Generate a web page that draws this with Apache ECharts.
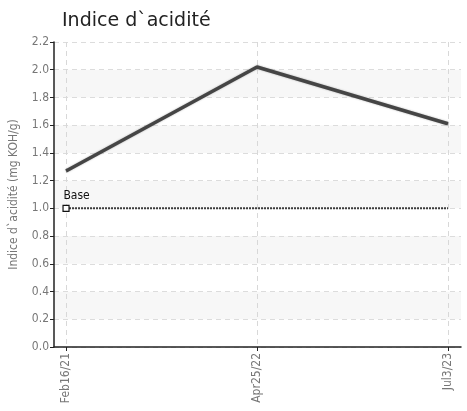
<!DOCTYPE html>
<html>
<head>
<meta charset="utf-8">
<script src="https://cdn.jsdelivr.net/npm/echarts@6/dist/echarts.min.js"></script>
<style>
  html, body { margin: 0; padding: 0; background: #fff; }
  #chart { width: 467px; height: 411px; }
</style>
</head>
<body>
<div id="chart"></div>
<script>
// dates of the samples
const categories = ['Feb16/21', 'Apr25/22', 'Jul3/23']
// acid number values
const acidValues = [1.27, 2.02, 1.61]
// base reference value
const baseValues = [1.0, 1.0, 1.0]

const labelFont = "'Liberation Sans Narrow', 'DejaVu Sans Condensed', 'Roboto Condensed', sans-serif"
const idx = categories.map((c, i) => i)

const chart = echarts.init(document.getElementById('chart'))

chart.setOption({
  animation: false,
  title: {
    text: 'Indice d`acidité',
    left: 57,
    top: 7,
    textStyle: { fontFamily: 'DejaVu Sans', fontSize: 19, fontWeight: 'normal', color: '#222' }
  },
  grid: { left: 54, top: 42, right: 6, bottom: 64 },
  xAxis: {
    type: 'value',
    min: -0.063,
    max: 2.068,
    axisLine: { show: true, onZero: false, lineStyle: { color: '#222', width: 1.5 } },
    axisTick: { show: true, customValues: idx, length: 4, inside: false, lineStyle: { color: '#222' } },
    axisLabel: {
      customValues: idx,
      rotate: 90,
      formatter: v => categories[Math.round(v)],
      fontFamily: labelFont,
      fontSize: 12,
      color: '#777',
      margin: 6
    },
    splitLine: { show: true, lineStyle: { color: '#d8d8d8', type: [5, 4] } }
  },
  yAxis: {
    type: 'value',
    min: 0,
    max: 2.2,
    interval: 0.2,
    name: 'Indice d`acidité (mg KOH/g)',
    nameLocation: 'middle',
    nameGap: 34,
    nameTextStyle: { fontFamily: labelFont, fontSize: 12, color: '#777' },
    axisLine: { show: true, onZero: false, lineStyle: { color: '#222', width: 1.5 } },
    axisTick: { show: true, length: 4, lineStyle: { color: '#222' } },
    axisLabel: {
      formatter: v => v.toFixed(1),
      fontFamily: labelFont,
      fontSize: 12,
      color: '#777',
      margin: 5
    },
    splitLine: { show: true, lineStyle: { color: '#dcdcdc', type: [5, 4] } },
    splitArea: { show: true, areaStyle: { color: ['#ffffff', '#f7f7f7'] } }
  },
  series: [
    {
      name: 'Base',
      type: 'line',
      data: baseValues.map((v, i) => ({
        value: [i, v],
        symbol: i === 0 ? 'rect' : 'none',
        symbolSize: 6,
        label: i === 0 ? {
          show: true, formatter: 'Base', position: [1, -15],
          fontFamily: labelFont, fontSize: 12, color: '#111'
        } : { show: false }
      })),
      itemStyle: { color: '#fff', borderColor: '#111', borderWidth: 1.2 },
      lineStyle: { color: '#3a3a3a', width: 2, type: [2, 1] },
      z: 3
    },
    {
      name: 'Acid',
      type: 'line',
      data: acidValues.map((v, i) => [i, v]),
      symbol: 'none',
      lineStyle: { color: '#454545', width: 3.5, shadowColor: 'rgba(0,0,0,0.3)', shadowBlur: 2 },
      z: 4
    }
  ]
})
</script>
</body>
</html>
